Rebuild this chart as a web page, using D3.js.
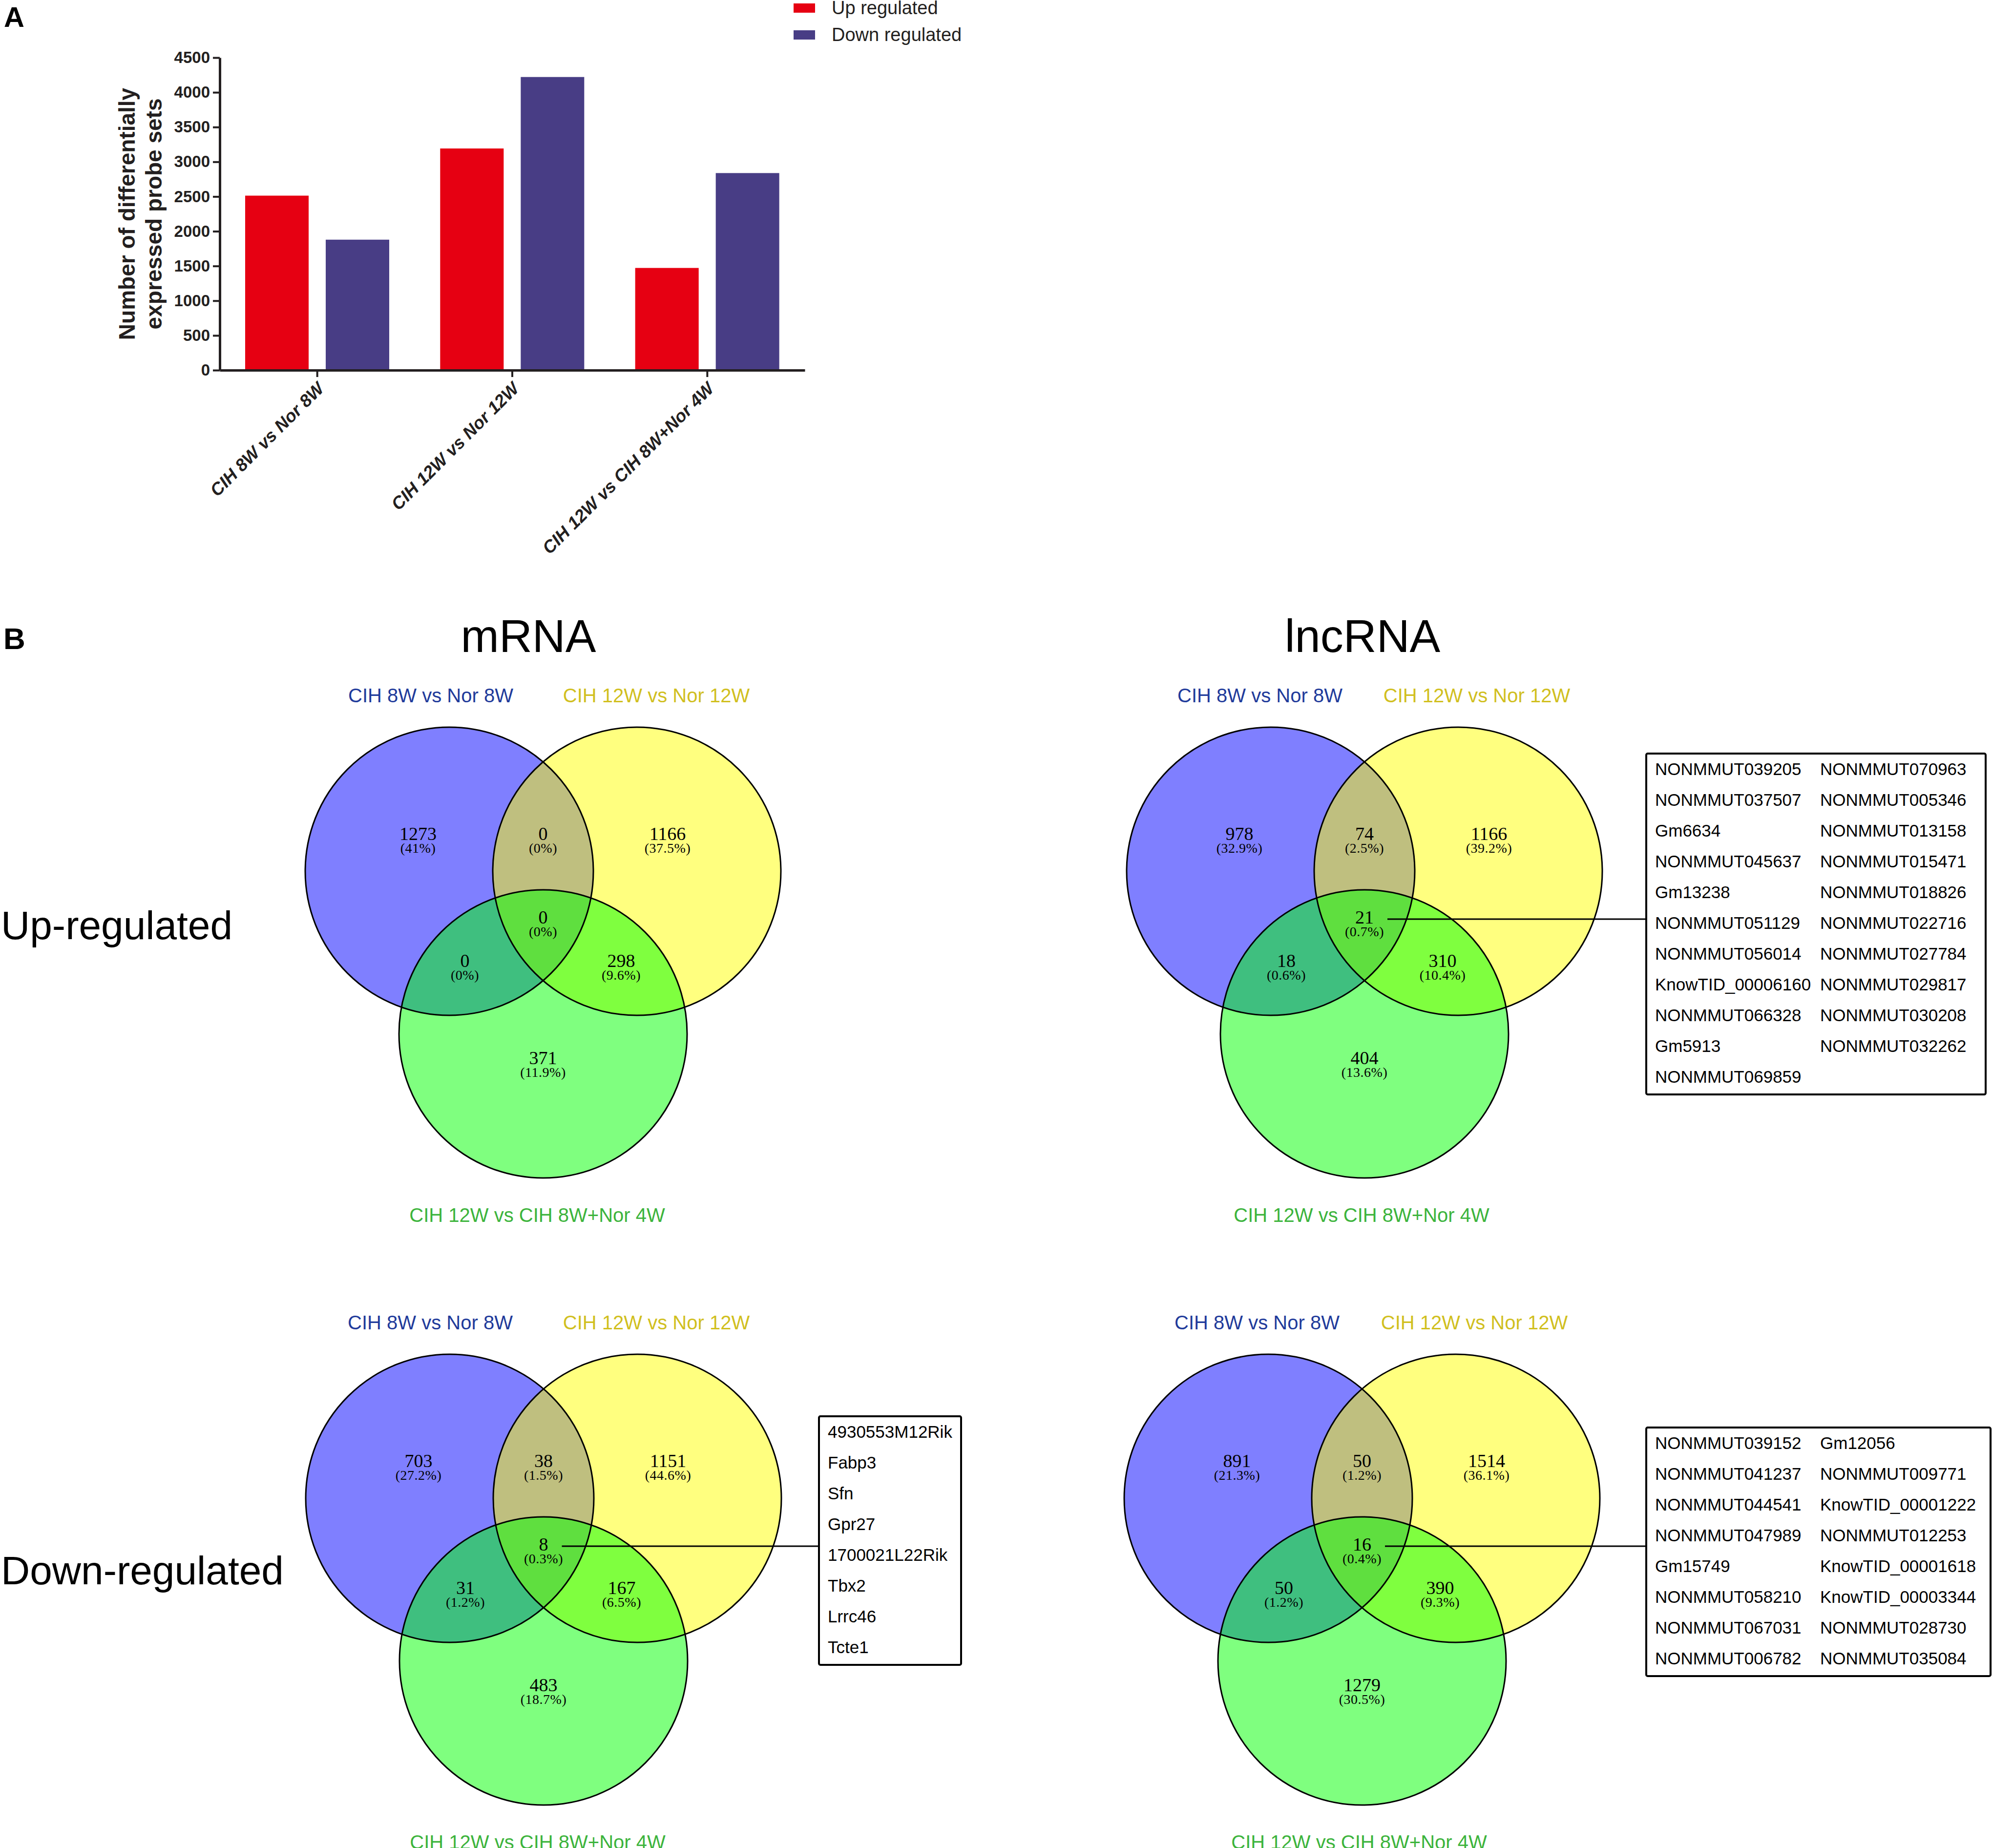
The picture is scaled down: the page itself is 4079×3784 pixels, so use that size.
<!DOCTYPE html>
<html>
<head>
<meta charset="utf-8">
<script src="https://cdn.jsdelivr.net/npm/d3@7/dist/d3.min.js"></script>
<style>
  body { margin: 0; background: #fff; }
  svg { display: block; }
</style>
</head>
<body>
<div id="chart"></div>
<script>
// bar chart data (panel A)
const comparisons = ["CIH 8W vs Nor 8W", "CIH 12W vs Nor 12W", "CIH 12W vs CIH 8W+Nor 4W"];
const seriesNames = ["Up regulated", "Down regulated"];
const upRegulated = [2513, 3192, 1472];
const downRegulated = [1879, 4221, 2838];
const yTicks = [0, 500, 1000, 1500, 2000, 2500, 3000, 3500, 4000, 4500];

// venn data (panel B), regions: A only, A&B, B only, A&B&C, A&C, B&C, C only
const vennRegions = ["A", "AB", "B", "ABC", "AC", "BC", "C"];
const mrnaUpCounts = [1273, 0, 1166, 0, 0, 298, 371];
const mrnaUpPct = ["41%", "0%", "37.5%", "0%", "0%", "9.6%", "11.9%"];
const lncUpCounts = [978, 74, 1166, 21, 18, 310, 404];
const lncUpPct = ["32.9%", "2.5%", "39.2%", "0.7%", "0.6%", "10.4%", "13.6%"];
const mrnaDownCounts = [703, 38, 1151, 8, 31, 167, 483];
const mrnaDownPct = ["27.2%", "1.5%", "44.6%", "0.3%", "1.2%", "6.5%", "18.7%"];
const lncDownCounts = [891, 50, 1514, 16, 50, 390, 1279];
const lncDownPct = ["21.3%", "1.2%", "36.1%", "0.4%", "1.2%", "9.3%", "30.5%"];

// genes shared by all three comparisons
const lncUpGenes1 = ["NONMMUT039205", "NONMMUT037507", "Gm6634", "NONMMUT045637", "Gm13238",
  "NONMMUT051129", "NONMMUT056014", "KnowTID_00006160", "NONMMUT066328", "Gm5913", "NONMMUT069859"];
const lncUpGenes2 = ["NONMMUT070963", "NONMMUT005346", "NONMMUT013158", "NONMMUT015471", "NONMMUT018826",
  "NONMMUT022716", "NONMMUT027784", "NONMMUT029817", "NONMMUT030208", "NONMMUT032262"];
const mrnaDownGenes = ["4930553M12Rik", "Fabp3", "Sfn", "Gpr27", "1700021L22Rik", "Tbx2", "Lrrc46", "Tcte1"];
const lncDownGenes1 = ["NONMMUT039152", "NONMMUT041237", "NONMMUT044541", "NONMMUT047989", "Gm15749",
  "NONMMUT058210", "NONMMUT067031", "NONMMUT006782"];
const lncDownGenes2 = ["Gm12056", "NONMMUT009771", "KnowTID_00001222", "NONMMUT012253", "KnowTID_00001618",
  "KnowTID_00003344", "NONMMUT028730", "NONMMUT035084"];

const W = 4079, H = 3784;
const sans = "'Liberation Sans', Arial, Helvetica, sans-serif";
const serif = "'Liberation Serif', 'Times New Roman', serif";
const ink = "#231f20";

const svg = d3.select("#chart").append("svg")
    .attr("width", W)
    .attr("height", H)
    .attr("viewBox", [0, 0, W, H]);

svg.append("rect").attr("width", W).attr("height", H).attr("fill", "#fff");

// ---------- panel A: grouped bars ----------
const barColors = d3.scaleOrdinal(seriesNames, ["#e60012", "#483d85"]);
const x0 = d3.scaleBand(comparisons, [450, 1648]);
const x1 = d3.scaleBand(seriesNames, [52, 347]).paddingInner(0.212);
const y = d3.scaleLinear([0, 4500], [758, 118]);

const barData = comparisons.map((c, i) => ({
    group: c,
    values: [{key: seriesNames[0], value: upRegulated[i]}, {key: seriesNames[1], value: downRegulated[i]}]
}));

svg.append("g")
    .selectAll("g")
    .data(barData)
    .join("g")
    .attr("transform", d => `translate(${x0(d.group)},0)`)
    .selectAll("rect")
    .data(d => d.values)
    .join("rect")
    .attr("x", d => x1(d.key))
    .attr("y", d => y(d.value))
    .attr("width", x1.bandwidth())
    .attr("height", d => y(0) - y(d.value))
    .attr("fill", d => barColors(d.key));

// y axis
svg.append("g")
    .attr("transform", "translate(450,0)")
    .call(d3.axisLeft(y).tickValues(yTicks).tickSize(14).tickSizeOuter(0).tickPadding(6).tickFormat(d3.format("d")))
    .call(g => g.select(".domain").attr("stroke", ink).attr("stroke-width", 5))
    .call(g => g.selectAll(".tick line").attr("stroke", ink).attr("stroke-width", 4))
    .call(g => g.selectAll(".tick text")
        .attr("fill", ink)
        .attr("font-family", sans)
        .attr("font-weight", "bold")
        .attr("font-size", 33));

// x axis
svg.append("g")
    .attr("transform", `translate(0,${y(0)})`)
    .call(d3.axisBottom(x0).tickSize(14).tickSizeOuter(0))
    .call(g => g.select(".domain").attr("stroke", ink).attr("stroke-width", 5))
    .call(g => g.selectAll(".tick line").attr("stroke", ink).attr("stroke-width", 4))
    .call(g => g.selectAll(".tick text")
        .attr("x", 0).attr("y", 0).attr("dy", 0)
        .attr("transform", "translate(16,40) rotate(-45)")
        .attr("text-anchor", "end")
        .attr("fill", ink)
        .attr("font-family", sans)
        .attr("font-weight", "bold")
        .attr("font-style", "italic")
        .attr("font-size", 36));

// y axis title (two lines)
const yTitle = svg.append("text")
    .attr("transform", `translate(276,${(y(0) + y(4500)) / 2}) rotate(-90)`)
    .attr("text-anchor", "middle")
    .attr("font-family", sans)
    .attr("font-weight", "bold")
    .attr("font-size", 46)
    .attr("fill", ink);
yTitle.append("tspan").attr("x", 0).attr("y", 0).text("Number of differentially");
yTitle.append("tspan").attr("x", 0).attr("y", 55).text("expressed probe sets");

// legend
const legend = svg.append("g")
    .selectAll("g")
    .data(seriesNames)
    .join("g")
    .attr("transform", (d, i) => `translate(1625,${7 + i * 55})`);
legend.append("rect")
    .attr("width", 44)
    .attr("height", 19)
    .attr("fill", d => barColors(d));
legend.append("text")
    .attr("x", 78)
    .attr("y", 22)
    .attr("font-family", sans)
    .attr("font-size", 38)
    .attr("fill", ink)
    .text(d => d);

// panel letters
svg.append("text").attr("x", 8).attr("y", 55)
    .attr("font-family", sans).attr("font-weight", "bold").attr("font-size", 58).text("A");
svg.append("text").attr("x", 7).attr("y", 1329)
    .attr("font-family", sans).attr("font-weight", "bold").attr("font-size", 62).text("B");

// ---------- panel B: venn diagrams ----------
const setColors = ["#0000ff", "#ffff00", "#00ff00"];
const setLabelColors = ["#1f3b9b", "#d1bf1f", "#3cb43c"];
const radius = 295;
const centerOffsets = [[-192, -111], [192, -111], [0, 222]];
// number anchor offsets from the centroid for each region
const regionOffsets = {A: [-256, -175], AB: [0, -175], B: [255, -175], ABC: [0, -4],
    AC: [-160, 85], BC: [160, 85], C: [0, 284]};

const vennPanels = [
    {title: "mRNA", titleX: 1082, cx: 1112, cy: 1895, counts: mrnaUpCounts, pcts: mrnaUpPct,
        labelDx: [-230, 232, -12]},
    {title: "lncRNA", titleX: 2790, cx: 2794, cy: 1895, counts: lncUpCounts, pcts: lncUpPct,
        labelDx: [-214, 230, -6],
        callout: {x: 3371, top: 1543, w: 695, columns: [lncUpGenes1, lncUpGenes2]}},
    {cx: 1113, cy: 3179, counts: mrnaDownCounts, pcts: mrnaDownPct,
        labelDx: [-232, 231, -12],
        callout: {x: 1677, top: 2900, w: 291, columns: [mrnaDownGenes]}},
    {cx: 2789, cy: 3179, counts: lncDownCounts, pcts: lncDownPct,
        labelDx: [-215, 230, -6],
        callout: {x: 3371, top: 2923, w: 705, columns: [lncDownGenes1, lncDownGenes2]}}
];

vennPanels.forEach(p => {
    const g = svg.append("g").attr("transform", `translate(${p.cx},${p.cy})`);

    if (p.title) {
        svg.append("text")
            .attr("x", p.titleX)
            .attr("y", 1335)
            .attr("text-anchor", "middle")
            .attr("font-family", sans)
            .attr("font-size", 94)
            .attr("fill", "#000")
            .text(p.title);
    }

    // fills first, outlines on top
    g.append("g").selectAll("circle")
        .data(centerOffsets)
        .join("circle")
        .attr("cx", d => d[0])
        .attr("cy", d => d[1])
        .attr("r", radius)
        .attr("fill", (d, i) => setColors[i])
        .attr("fill-opacity", 0.5);
    g.append("g").selectAll("circle")
        .data(centerOffsets)
        .join("circle")
        .attr("cx", d => d[0])
        .attr("cy", d => d[1])
        .attr("r", radius)
        .attr("fill", "none")
        .attr("stroke", "#000")
        .attr("stroke-width", 3);

    // set names
    g.append("g").selectAll("text")
        .data(comparisons)
        .join("text")
        .attr("x", (d, i) => p.labelDx[i])
        .attr("y", (d, i) => i < 2 ? -457 : 607)
        .attr("text-anchor", "middle")
        .attr("font-family", sans)
        .attr("font-size", 40)
        .attr("fill", (d, i) => setLabelColors[i])
        .text(d => d);

    // counts and percentages
    const cells = g.append("g").selectAll("g")
        .data(vennRegions.map((r, i) => ({region: r, count: p.counts[i], pct: p.pcts[i]})))
        .join("g")
        .attr("transform", d => `translate(${regionOffsets[d.region][0]},${regionOffsets[d.region][1]})`);
    cells.append("text")
        .attr("class", d => "num-" + d.region)
        .attr("text-anchor", "middle")
        .attr("font-family", serif)
        .attr("font-size", 38)
        .attr("fill", "#000")
        .text(d => d.count);
    cells.append("text")
        .attr("y", 26)
        .attr("text-anchor", "middle")
        .attr("font-family", serif)
        .attr("font-size", 28)
        .attr("letter-spacing", 0.5)
        .attr("fill", "#000")
        .text(d => `(${d.pct})`);

    // callout box listing the shared genes
    if (p.callout) {
        const c = p.callout;
        const rows = d3.max(c.columns, col => col.length);
        const boxH = rows * 63 + 5;
        const numNode = g.select(".num-ABC").node();
        const half = numNode.getComputedTextLength() / 2;
        const lineY = p.cy + regionOffsets.ABC[1] - 9;

        svg.append("line")
            .attr("x1", p.cx + half + 28)
            .attr("x2", c.x)
            .attr("y1", lineY)
            .attr("y2", lineY)
            .attr("stroke", "#000")
            .attr("stroke-width", 3);

        svg.append("rect")
            .attr("x", c.x)
            .attr("y", c.top)
            .attr("width", c.w)
            .attr("height", boxH)
            .attr("rx", 3)
            .attr("fill", "#fff")
            .attr("stroke", "#000")
            .attr("stroke-width", 4);

        c.columns.forEach((col, ci) => {
            svg.append("g").selectAll("text")
                .data(col)
                .join("text")
                .attr("x", c.x + 18 + ci * 338)
                .attr("y", (d, i) => c.top + 44 + i * 63)
                .attr("font-family", sans)
                .attr("font-size", 35)
                .attr("fill", "#000")
                .text(d => d);
        });
    }
});

// row labels
svg.append("text").attr("x", 2).attr("y", 1923)
    .attr("font-family", sans).attr("font-size", 82).attr("fill", "#000").text("Up-regulated");
svg.append("text").attr("x", 2).attr("y", 3244)
    .attr("font-family", sans).attr("font-size", 82).attr("fill", "#000").text("Down-regulated");
</script>
</body>
</html>
